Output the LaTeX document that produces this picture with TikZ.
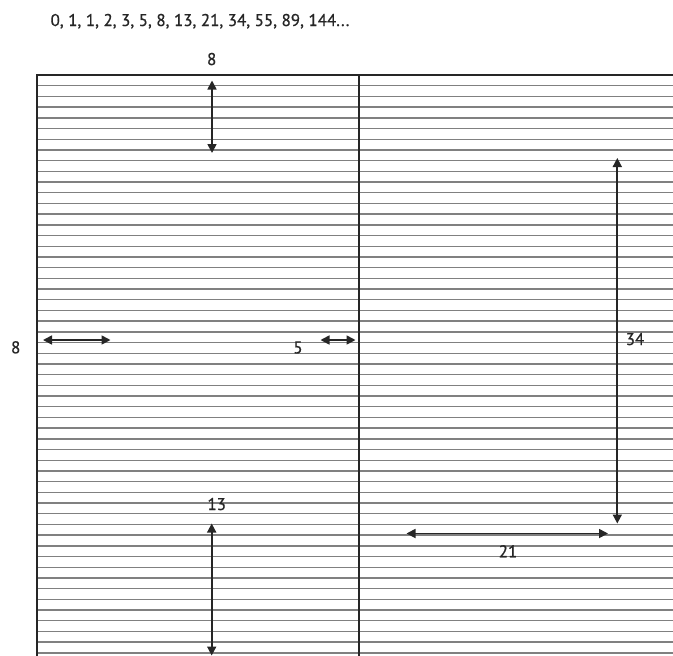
\documentclass[tikz,border=0pt]{standalone}
\usepackage{fontspec}
\setmainfont{PT Sans}
\newfontfamily\lblfont[FakeBold=0.8]{PT Sans}
\usetikzlibrary{arrows.meta}
\begin{document}
\begin{tikzpicture}[x=1pt,y=-1pt,
  rule/.style={line width=1.4pt,black!50},
  frame/.style={line width=2pt,black!85},
  dim/.style={line width=1.7pt,black!85,{Triangle[length=9pt,width=9pt]}-{Triangle[length=9pt,width=9pt]}},
  lbl/.style={font=\lblfont\fontsize{17}{20}\selectfont,text=black!85,inner sep=0pt,anchor=base}]
\useasboundingbox (0,0) rectangle (673,656);
% ruled lines
\foreach \k in {1,...,54} \draw[rule] (37,{75+10.7*\k}) -- (673,{75+10.7*\k});
% frame and divider
\draw[frame] (36.5,656) -- (36.5,75) -- (673,75);
\draw[frame] (359,75) -- (359,656);
% texts
\node[lbl] (title) at (200,26) {0, 1, 1, 2, 3, 5, 8, 13, 21, 34, 55, 89, 144...};
\node[lbl] (l8top) at (211.7,65) {8};
\node[lbl] (l8left) at (15.7,353.3) {8};
\node[lbl] (l5) at (298,353.3) {5};
\node[lbl] (l34) at (635,345) {34};
\node[lbl] (l21) at (508,557.3) {21};
\node[lbl] (l13) at (216.7,510) {13};
% arrow ends
\coordinate (a1) at (212,80.5);
\coordinate (a2) at (212,153);
\coordinate (b1) at (43,340);
\coordinate (b2) at (110.5,340);
\coordinate (c1) at (320.5,340);
\coordinate (c2) at (355.5,340);
\coordinate (d1) at (617.3,158);
\coordinate (d2) at (617.3,523.5);
\coordinate (e1) at (406.5,533.5);
\coordinate (e2) at (608,533.5);
\coordinate (f1) at (211.7,523.5);
\coordinate (f2) at (211.7,655.5);
% arrows
\draw[dim] (a1) -- (a2);
\draw[dim] (b1) -- (b2);
\draw[dim] (c1) -- (c2);
\draw[dim] (d1) -- (d2);
\draw[dim] (e1) -- (e2);
\draw[dim] (f1) -- (f2);
\end{tikzpicture}
\end{document}
